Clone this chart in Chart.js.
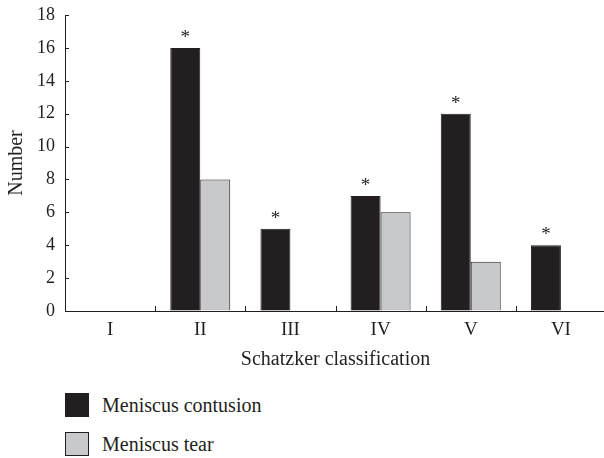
<!DOCTYPE html>
<html>
<head>
<meta charset="utf-8">
<script src="https://cdn.jsdelivr.net/npm/chart.js@4/dist/chart.umd.min.js"></script>
<style>
  html, body { margin: 0; padding: 0; background: #fff; overflow: hidden; width: 604px; height: 458px; }
  #wrap { position: absolute; left: 0; top: 0; }
  #legend { position: absolute; left: 65px; top: 393px; font-family: "Liberation Serif", serif; font-size: 20px; color: #231f20; }
  .item { display: flex; align-items: center; height: 24px; margin-bottom: 15px; }
  .box { width: 24px; height: 24px; box-sizing: border-box; margin-right: 13px; }
</style>
</head>
<body>
<div id="wrap"><canvas id="chart" width="608" height="380"></canvas></div>
<div id="legend"></div>
<script>
const categories = ['I', 'II', 'III', 'IV', 'V', 'VI'];
const contusion = [0, 16, 5, 7, 12, 4];
const tear = [0, 8, 0, 6, 3, 0];
const starred = [false, true, true, true, true, true];
const seriesNames = ['Meniscus contusion', 'Meniscus tear'];

const ink = '#231f20';
const grey = '#c8c9cb';

// small inward tick marks like the original figure
const innerTicks = {
  id: 'innerTicks',
  afterDatasetsDraw(chart) {
    const ctx = chart.ctx;
    const x = chart.scales.x, y = chart.scales.y;
    ctx.save();
    ctx.strokeStyle = ink;
    ctx.lineWidth = 1;
    ctx.beginPath();
    y.ticks.forEach(t => {
      const py = Math.round(y.getPixelForValue(t.value)) + 0.5;
      ctx.moveTo(x.left, py);
      ctx.lineTo(x.left + 4, py);
    });
    for (let i = 0; i < categories.length - 1; i++) {
      const px = Math.round((x.getPixelForValue(i) + x.getPixelForValue(i + 1)) / 2) + 0.5;
      ctx.moveTo(px, y.bottom);
      ctx.lineTo(px, y.bottom - 5);
    }
    ctx.stroke();

    // significance marks above the contusion bars
    const meta = chart.getDatasetMeta(0);
    ctx.fillStyle = ink;
    ctx.font = '19px "Liberation Serif", serif';
    ctx.textAlign = 'center';
    ctx.textBaseline = 'alphabetic';
    meta.data.forEach((bar, i) => {
      if (starred[i]) ctx.fillText('*', bar.x, bar.y - 5);
    });
    ctx.restore();
  }
};

const chart = new Chart(document.getElementById('chart'), {
  type: 'bar',
  data: {
    labels: categories,
    datasets: [
      { label: seriesNames[0], data: contusion, backgroundColor: ink, borderColor: ink, borderWidth: 1 },
      { label: seriesNames[1], data: tear, backgroundColor: grey, borderColor: ink, borderWidth: 1 }
    ]
  },
  options: {
    responsive: false,
    animation: false,
    categoryPercentage: 0.665,
    barPercentage: 1,
    layout: { padding: { top: 15, right: 2, left: 0, bottom: 0 } },
    plugins: { legend: { display: false }, tooltip: { enabled: false } },
    scales: {
      x: {
        grid: { display: true, drawOnChartArea: false, drawTicks: false },
        border: { color: ink, width: 1 },
        ticks: { color: ink, padding: 8, font: { family: 'Liberation Serif', size: 19 } },
        title: {
          display: true, text: 'Schatzker classification', color: ink,
          font: { family: 'Liberation Serif', size: 20 }, padding: { top: 0, bottom: 8 }
        },
        afterFit: s => { s.height = 69; s.paddingLeft = 0; s.paddingRight = 0; }
      },
      y: {
        min: 0,
        max: 18,
        grid: { display: true, drawOnChartArea: false, drawTicks: false },
        border: { color: ink, width: 1 },
        ticks: { stepSize: 2, color: ink, padding: 10, font: { family: 'Liberation Serif', size: 18 } },
        title: {
          display: true, text: 'Number', color: ink,
          font: { family: 'Liberation Serif', size: 20 }, padding: { top: 5, bottom: 0 }
        },
        afterFit: s => { s.width = 65; s.paddingTop = 0; s.paddingBottom = 0; }
      }
    }
  },
  plugins: [innerTicks]
});

// legend built from the chart's datasets
const legend = document.getElementById('legend');
chart.data.datasets.forEach(ds => {
  const item = document.createElement('div');
  item.className = 'item';
  const box = document.createElement('div');
  box.className = 'box';
  box.style.background = ds.backgroundColor;
  box.style.border = '1.5px solid ' + ds.borderColor;
  const text = document.createElement('span');
  text.textContent = ds.label;
  item.appendChild(box);
  item.appendChild(text);
  legend.appendChild(item);
});
</script>
</body>
</html>
